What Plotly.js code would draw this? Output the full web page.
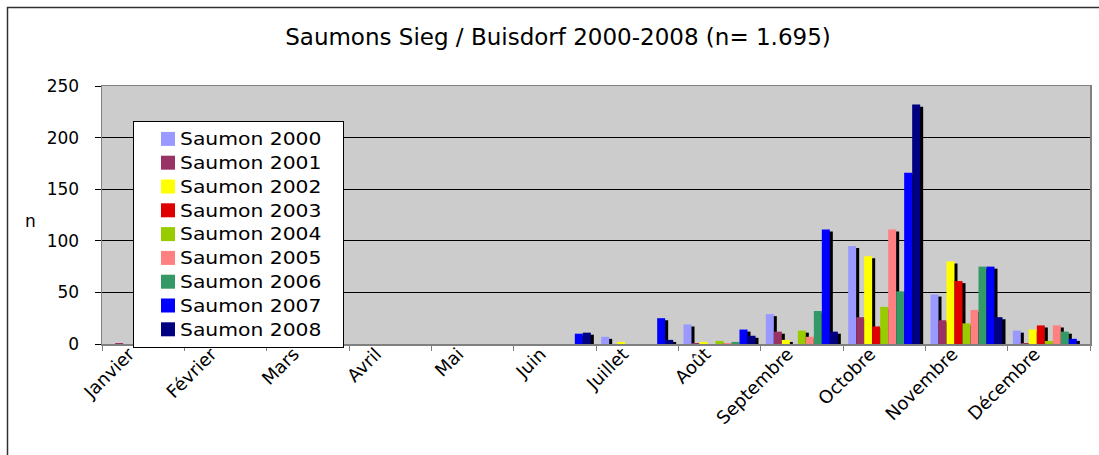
<!DOCTYPE html>
<html>
<head>
<meta charset="utf-8">
<script src="https://cdn.plot.ly/plotly-3.0.1.min.js"></script>
<style>html,body{margin:0;padding:0;background:#fff;}#chart{width:1099px;height:455px;}</style>
</head>
<body>
<div id="chart"></div>
<script>
const months = ['Janvier','Février','Mars','Avril','Mai','Juin','Juillet','Août','Septembre','Octobre','Novembre','Décembre'];
const seriesNames = ['Saumon 2000','Saumon 2001','Saumon 2002','Saumon 2003','Saumon 2004','Saumon 2005','Saumon 2006','Saumon 2007','Saumon 2008'];
const s2000 = [0,0,0,0,0,0,7,19,29,95,48,13];
const s2001 = [1,0,0,0,0,0,0,1,12,26,23,1];
const s2002 = [0,0,0,0,0,0,2,2,4,85,80,14];
const s2003 = [0,0,0,0,0,0,0,0,0,17,61,18];
const s2004 = [1,1,0,0,0,0,0,3,13,36,20,3];
const s2005 = [0,0,0,0,0,0,0,1,7,111,33,18];
const s2006 = [1,0,0,0,0,0,0,2,32,51,75,12];
const s2007 = [2,0,0,0,0,10,25,14,111,166,75,5];
const s2008 = [2,0,0,0,0,11,4,8,12,232,26,0];
const yTicks = [0,50,100,150,200,250];
const chartTitle = 'Saumons Sieg / Buisdorf 2000-2008 (n= 1.695)';

const allSeries = [s2000,s2001,s2002,s2003,s2004,s2005,s2006,s2007,s2008];
const colors = ['#9999FF','#993366','#FFFF00','#E00000','#99CC00','#FF8080','#339966','#0000FF','#000080'];

const catPx = 988/12;
const barW = 8/catPx;
const start = -barW*9/2;
const shadowDx = 3/catPx;
const shadowDy = 2;

const traces = [];
allSeries.forEach((vals,i)=>{
  traces.push({
    type:'bar', x:months, y:vals, base:-shadowDy,
    width:barW, offset:start+i*barW+shadowDx,
    marker:{color:'#000000', line:{width:0}},
    showlegend:false, hoverinfo:'skip', name:''
  });
});
allSeries.forEach((vals,i)=>{
  traces.push({
    type:'bar', x:months, y:vals, name:seriesNames[i],
    width:barW, offset:start+i*barW,
    marker:{color:colors[i], line:{width:0}}
  });
});

const font = 'DejaVu Sans, Verdana, sans-serif';
const layout = {
  width:1099, height:455, autosize:false,
  margin:{l:102, r:9, t:86, b:111, pad:0},
  paper_bgcolor:'#ffffff', plot_bgcolor:'#CCCCCC',
  barmode:'overlay',
  font:{family:font, color:'#000000', size:16},
  title:{text:chartTitle, font:{family:font, size:23, color:'#000'}, xref:'paper', x:(558-102)/988, xanchor:'center', yref:'container', y:1-37/455, yanchor:'middle'},
  xaxis:{
    type:'category', tickangle:-45, tickson:'boundaries', ticks:'outside', ticklen:5, tickcolor:'#808080', tickwidth:1,
    showline:true, linecolor:'#808080', linewidth:1.5, mirror:true, showgrid:false,
    ticklabelshift:-14, ticklabelstandoff:-9,
    tickfont:{family:font, size:18, color:'#000'}, fixedrange:true
  },
  yaxis:{
    range:[0,250], tickvals:yTicks, ticks:'outside', ticklen:6, tickcolor:'#000', tickwidth:1,
    ticklabelstandoff:12,
    showline:true, linecolor:'#808080', linewidth:1.5, mirror:true,
    showgrid:true, gridcolor:'#000000', gridwidth:1, zeroline:false,
    tickfont:{family:font, size:17, color:'#000'}, fixedrange:true
  },
  legend:{
    x:(133-102)/988, y:(344-121)/258, xanchor:'left', yanchor:'top',
    bgcolor:'#ffffff', bordercolor:'#000000', borderwidth:1,
    font:{family:font, size:16, color:'#000'}, indentation:6, tracegroupgap:0
  },
  annotations:[{text:'n', xref:'paper', yref:'paper', x:(30-102)/988, y:(344-221)/258, showarrow:false, font:{family:font, size:17, color:'#000'}, xanchor:'center', yanchor:'middle'}],
  shapes:[{type:'rect', xref:'paper', yref:'paper', x0:(7.5-102)/988, x1:1.05, y0:-0.6, y1:(344-7.5)/258, line:{color:'#303030', width:1.5}, fillcolor:'rgba(0,0,0,0)', layer:'below'}]
};
const gd = document.getElementById('chart');
Plotly.newPlot(gd, traces, layout, {displayModeBar:false, staticPlot:true}).then(()=>{
  // the reference legend uses a wider, larger font: widen the box and scale its texts/swatches
  const leg = gd.querySelector('.legend');
  if(!leg) return;
  const legW = 210;
  const bg = leg.querySelector('rect.bg');
  if(bg) bg.setAttribute('width', legW);
  document.querySelectorAll('clipPath[id^="legend"] rect').forEach(r=>r.setAttribute('width', legW));
  leg.querySelectorAll('text.legendtext').forEach(t=>{
    const x = parseFloat(t.getAttribute('x')||0), y = parseFloat(t.getAttribute('y')||0);
    t.setAttribute('transform', `translate(${x},${y}) scale(1.27,1.1) translate(${-x},${-y})`);
  });
  leg.querySelectorAll('g.legendpoints').forEach(g=>{
    const tr = g.getAttribute('transform')||'';
    g.setAttribute('transform', tr+' translate(8,0)');
    g.querySelectorAll('path').forEach(p=>p.setAttribute('d','M7,7H-7V-7H7Z'));
  });
});
</script>
</body>
</html>
